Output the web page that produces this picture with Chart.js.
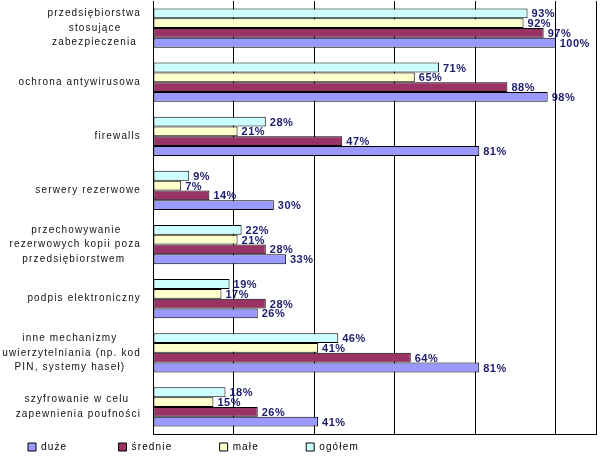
<!DOCTYPE html>
<html><head><meta charset="utf-8">
<script src="https://cdn.jsdelivr.net/npm/chart.js@4"></script>
<style>html,body{margin:0;padding:0;background:#fff;} canvas{display:block;}</style>
</head><body>
<canvas id="c" width="607" height="466"></canvas>
<script>
const categories = [
  ['przedsiębiorstwa', 'stosujące', 'zabezpieczenia'],
  'ochrona antywirusowa',
  'firewalls',
  'serwery rezerwowe',
  ['przechowywanie', 'rezerwowych kopii poza', 'przedsiębiorstwem'],
  'podpis elektroniczny',
  ['inne mechanizmy', 'uwierzytelniania (np. kod', 'PIN, systemy haseł)'],
  ['szyfrowanie w celu', 'zapewnienia poufności']
];
const seriesNames = ['ogółem', 'małe', 'średnie', 'duże'];
const ogolem  = [93, 71, 28, 9, 22, 19, 46, 18];
const male    = [92, 65, 21, 7, 21, 17, 41, 15];
const srednie = [97, 88, 47, 14, 28, 28, 64, 26];
const duze    = [100, 98, 81, 30, 33, 26, 81, 41];
const gridValues = [0, 20, 40, 60, 80, 100, 110];

const FONT = '"Liberation Sans", Arial, sans-serif';
const TICK_SPACING = '1.15px';
const measureCtx = document.createElement('canvas').getContext('2d');
measureCtx.font = '10px ' + FONT;
measureCtx.letterSpacing = TICK_SPACING;
function centerLines(lbl) {
  if (!Array.isArray(lbl)) return lbl;
  const widths = lbl.map(s => measureCtx.measureText(s).width);
  const max = Math.max(...widths);
  const sp = measureCtx.measureText(' ').width;
  return lbl.map((s, k) => s + ' '.repeat(Math.round((max - widths[k]) / 2 / sp)));
}

const spacingPlugin = {
  id: 'spacing',
  beforeUpdate(chart) { chart.ctx.letterSpacing = TICK_SPACING; },
  beforeLayout(chart) { chart.ctx.letterSpacing = TICK_SPACING; },
  beforeDraw(chart) { chart.ctx.letterSpacing = TICK_SPACING; }
};
const labelPlugin = {
  id: 'barLabels',
  afterDatasetsDraw(chart) {
    const ctx = chart.ctx;
    ctx.save();
    ctx.letterSpacing = '0.5px';
    ctx.font = 'bold 11px ' + FONT;
    ctx.fillStyle = '#1c1c6b';
    ctx.textAlign = 'left';
    ctx.textBaseline = 'middle';
    chart.data.datasets.forEach((ds, i) => {
      const meta = chart.getDatasetMeta(i);
      meta.data.forEach((bar, j) => {
        ctx.fillText(ds.data[j] + '%', bar.x + 4, bar.y + 1);
      });
    });
    ctx.restore();
  }
};

const legendPad = [0, 10, 10, 11];

new Chart(document.getElementById('c'), {
  type: 'bar',
  data: {
    labels: categories,
    datasets: [
      { label: seriesNames[0], data: ogolem,  backgroundColor: '#CCFFFF' },
      { label: seriesNames[1], data: male,    backgroundColor: '#FFFFCC' },
      { label: seriesNames[2], data: srednie, backgroundColor: '#993366' },
      { label: seriesNames[3], data: duze,    backgroundColor: '#9999FF' }
    ].map(d => Object.assign(d, { borderColor: '#000', borderWidth: 1, borderSkipped: false,
      categoryPercentage: 0.725, barPercentage: 1.0 }))
  },
  options: {
    indexAxis: 'y',
    responsive: false,
    animation: false,
    layout: { padding: { left: 20, right: 11, top: 1, bottom: 4 } },
    scales: {
      x: {
        min: 0, max: 110,
        afterBuildTicks(s) { s.ticks = gridValues.map(v => ({ value: v })); },
        ticks: { display: false },
        grid: { color: '#000', lineWidth: 1, drawTicks: false },
        border: { display: true, color: '#000', width: 1 }
      },
      y: {
        afterFit(s) {
          s.width = 133;
          s.paddingTop = 0; s.paddingBottom = 0;
          s._computeLabelArea = () => null;
        },
        grid: { display: false, drawTicks: false },
        border: { display: true, color: '#000', width: 1 },
        ticks: {
          padding: 12,
          color: '#111',
          font: { family: FONT, size: 10, lineHeight: 1.45 },
          callback(value) { return centerLines(categories[value]); }
        }
      }
    },
    plugins: {
      tooltip: { enabled: false },
      legend: {
        position: 'bottom',
        align: 'start',
        reverse: true,
        labels: {
          boxWidth: 8, boxHeight: 8, padding: 8, color: '#000',
          font: { family: FONT, size: 10 },
          generateLabels(chart) {
            const items = Chart.defaults.plugins.legend.labels.generateLabels(chart);
            items.forEach(it => { it.text = it.text + ' '.repeat(legendPad[it.datasetIndex]); });
            return items;
          }
        }
      }
    }
  },
  plugins: [spacingPlugin, labelPlugin]
});
</script>
</body></html>
